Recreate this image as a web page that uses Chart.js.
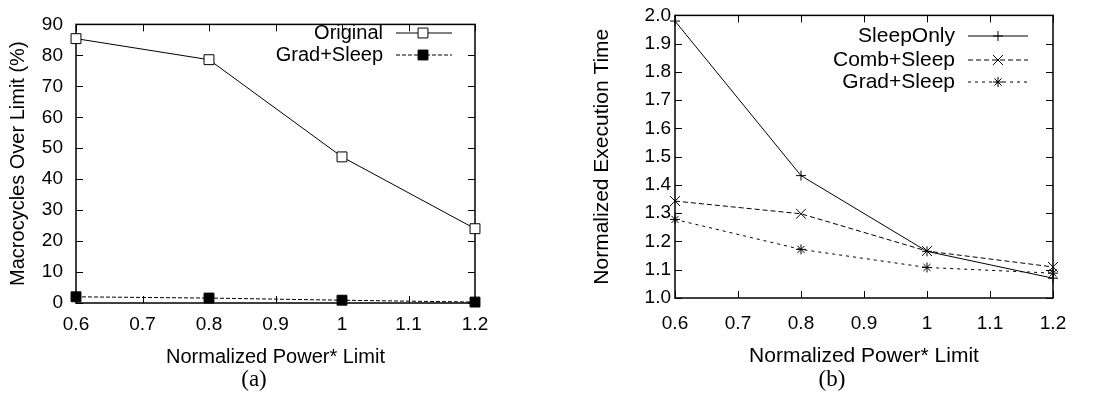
<!DOCTYPE html>
<html>
<head>
<meta charset="utf-8">
<script src="https://cdn.jsdelivr.net/npm/chart.js@4"></script>
<style>
body { margin: 0; background: #fff; }
canvas { position: absolute; top: 0; }
.cap { position: absolute; top: 379px; transform: translate(-50%, -50%); font-family: "Liberation Serif", "Times New Roman", serif; font-size: 23px; color: #000; }
</style>
</head>
<body>
<canvas id="chartA" width="550" height="394" style="left:0"></canvas>
<canvas id="chartB" width="551" height="394" style="left:550px"></canvas>
<div class="cap" style="left:254px">(a)</div>
<div class="cap" style="left:832px">(b)</div>
<script>
const powerLimits = [0.6, 0.8, 1.0, 1.2];
const xTicks = [0.6, 0.7, 0.8, 0.9, 1.0, 1.1, 1.2];

// (a) macrocycles over limit, %
const originalOver = [85.4, 78.6, 47.2, 24.0];
const gradSleepOver = [2.0, 1.6, 0.9, 0.3];
const overTicks = [0, 10, 20, 30, 40, 50, 60, 70, 80, 90];

// (b) normalized execution time
const sleepOnlyTime = [1.98, 1.433, 1.165, 1.07];
const combSleepTime = [1.343, 1.298, 1.166, 1.11];
const gradSleepTime = [1.278, 1.172, 1.108, 1.088];
const timeTicks = [1.0, 1.1, 1.2, 1.3, 1.4, 1.5, 1.6, 1.7, 1.8, 1.9, 2.0];

Chart.defaults.font.family = '"Liberation Sans", Arial, sans-serif';
Chart.defaults.font.size = 19;
Chart.defaults.color = "#000";

const toPoints = (ys) => powerLimits.map((x, i) => ({ x: x, y: ys[i] }));

// gnuplot style frame with ticks pointing inwards on all four sides
const gnuplotFrame = {
	id: "gnuplotFrame",
	beforeDatasetsDraw(chart) {
		const { ctx, chartArea: a, scales } = chart;
		const len = 7;
		ctx.save();
		ctx.strokeStyle = "#000";
		ctx.lineWidth = 1;
		ctx.beginPath();
		scales.x.ticks.forEach((t) => {
			const px = Math.round(scales.x.getPixelForValue(t.value)) + 0.5;
			ctx.moveTo(px, a.bottom);
			ctx.lineTo(px, a.bottom - len);
			ctx.moveTo(px, a.top);
			ctx.lineTo(px, a.top + len);
		});
		scales.y.ticks.forEach((t) => {
			const py = Math.round(scales.y.getPixelForValue(t.value)) + 0.5;
			ctx.moveTo(a.left, py);
			ctx.lineTo(a.left + len, py);
			ctx.moveTo(a.right, py);
			ctx.lineTo(a.right - len, py);
		});
		ctx.stroke();
		ctx.lineWidth = 1.5;
		ctx.strokeRect(a.left, a.top, a.right - a.left, a.bottom - a.top);
		ctx.restore();
	},
};

// legend inside the plot: right aligned text, then line sample with marker
const insideLegend = {
	id: "insideLegend",
	afterDraw(chart, args, opts) {
		const ctx = chart.ctx;
		chart.data.datasets.forEach((ds, i) => {
			const y = opts.rows[i];
			ctx.save();
			ctx.font = opts.font;
			ctx.fillStyle = "#000";
			ctx.textAlign = "right";
			ctx.textBaseline = "middle";
			ctx.fillText(ds.label, opts.textRight, y);
			ctx.strokeStyle = ds.borderColor;
			ctx.lineWidth = ds.borderWidth;
			ctx.setLineDash(ds.borderDash || []);
			ctx.beginPath();
			ctx.moveTo(opts.lineFrom, y);
			ctx.lineTo(opts.lineTo, y);
			ctx.stroke();
			ctx.setLineDash([]);
			ctx.fillStyle = ds.pointBackgroundColor;
			ctx.strokeStyle = ds.pointBorderColor;
			ctx.lineWidth = 1;
			Chart.helpers.drawPoint(ctx, { pointStyle: ds.pointStyle, radius: ds.pointRadius, borderWidth: 1, rotation: 0 }, opts.marker, y);
			ctx.restore();
		});
	},
};

function makeChart(id, cfg) {
	return new Chart(document.getElementById(id), {
		type: "line",
		data: { datasets: cfg.datasets },
		options: {
			responsive: false,
			animation: false,
			layout: { padding: cfg.padding },
			plugins: {
				legend: { display: false },
				tooltip: { enabled: false },
				insideLegend: cfg.legend,
			},
			scales: {
				x: {
					type: "linear",
					min: 0.6,
					max: 1.2,
					afterBuildTicks: (s) => { s.ticks = xTicks.map((v) => ({ value: v })); },
					afterFit: (s) => { s.height = cfg.xHeight; },
					grid: { display: false, drawTicks: false },
					border: { display: false },
					ticks: { padding: cfg.xPad, maxRotation: 0, callback: (v) => String(+v.toFixed(1)) },
					title: { display: true, text: "Normalized Power* Limit", font: { size: cfg.titleSize }, padding: { top: 0, bottom: 0 } },
				},
				y: {
					type: "linear",
					min: cfg.yMin,
					max: cfg.yMax,
					afterBuildTicks: (s) => { s.ticks = cfg.yTicks.map((v) => ({ value: v })); },
					afterFit: (s) => { s.width = cfg.yWidth; },
					grid: { display: false, drawTicks: false },
					border: { display: false },
					ticks: { padding: cfg.yPad, callback: cfg.yFormat },
					title: { display: true, text: cfg.yTitle, font: { size: cfg.titleSize }, padding: { top: cfg.yTitlePad, bottom: 0 } },
				},
			},
		},
		plugins: [gnuplotFrame, insideLegend],
	});
}

const base = { borderColor: "#000", borderWidth: 1, pointBorderColor: "#000", pointBorderWidth: 1, clip: false, tension: 0 };

makeChart("chartA", {
	datasets: [
		Object.assign({}, base, { label: "Original", data: toPoints(originalOver), pointStyle: "rect", pointRadius: 7, pointBackgroundColor: "#fff" }),
		Object.assign({}, base, { label: "Grad+Sleep", data: toPoints(gradSleepOver), borderDash: [4, 2], pointStyle: "rect", pointRadius: 7, pointBackgroundColor: "#000" }),
	],
	padding: { left: 0, right: 75, top: 14, bottom: 25 },
	xHeight: 66,
	xPad: 10,
	yWidth: 76,
	yMin: 0,
	yMax: 90,
	yTicks: overTicks,
	yPad: 13,
	yFormat: (v) => String(v),
	yTitle: "Macrocycles Over Limit (%)",
	yTitlePad: 6,
	titleSize: 20,
	legend: { font: '20px "Liberation Sans", Arial, sans-serif', textRight: 383, lineFrom: 396, lineTo: 452, marker: 423, rows: [33, 55] },
});

makeChart("chartB", {
	datasets: [
		Object.assign({}, base, { label: "SleepOnly", data: toPoints(sleepOnlyTime), pointStyle: "cross", pointRadius: 5, pointBackgroundColor: "#000" }),
		Object.assign({}, base, { label: "Comb+Sleep", data: toPoints(combSleepTime), borderDash: [5, 3], pointStyle: "crossRot", pointRadius: 7, pointBackgroundColor: "#000" }),
		Object.assign({}, base, { label: "Grad+Sleep", data: toPoints(gradSleepTime), borderDash: [3, 4], pointStyle: "star", pointRadius: 5, pointBackgroundColor: "#000" }),
	],
	padding: { left: 0, right: 48, top: 15, bottom: 25 },
	xHeight: 71,
	xPad: 14,
	yWidth: 125,
	yMin: 1.0,
	yMax: 2.0,
	yTicks: timeTicks,
	yPad: 4,
	yFormat: (v) => v.toFixed(1),
	yTitle: "Normalized Execution Time",
	yTitlePad: 40,
	titleSize: 21,
	legend: { font: '21px "Liberation Sans", Arial, sans-serif', textRight: 405, lineFrom: 418, lineTo: 478, marker: 448, rows: [36, 60, 82] },
});
</script>
</body>
</html>
